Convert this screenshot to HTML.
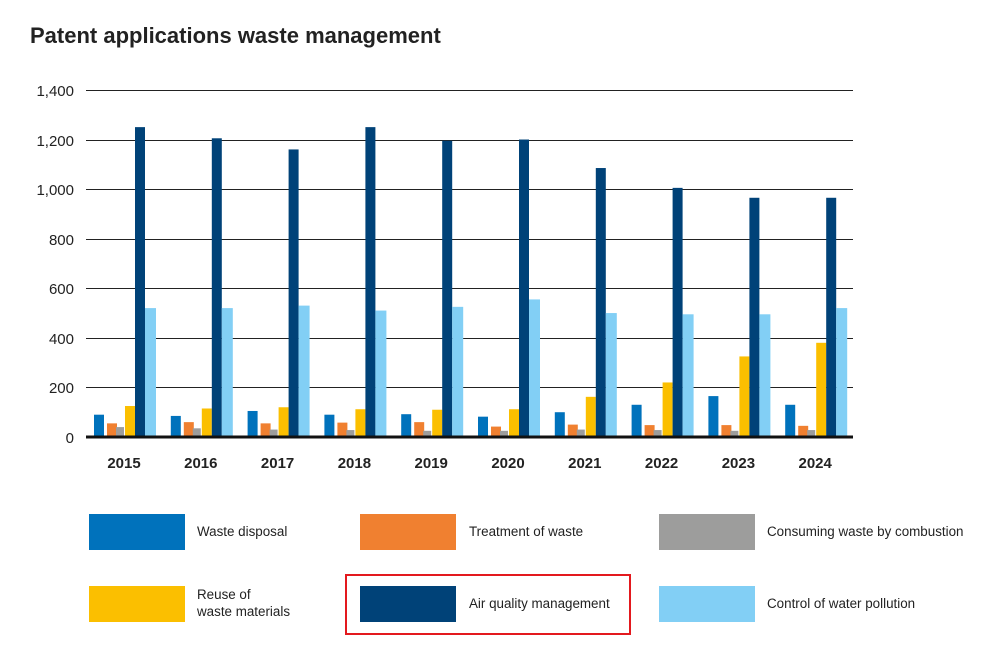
<!DOCTYPE html>
<html><head><meta charset="utf-8"><style>
body{margin:0;background:#fff;width:1004px;height:647px;overflow:hidden;font-family:"Liberation Sans",sans-serif}
</style></head><body>
<svg width="1004" height="647" xmlns="http://www.w3.org/2000/svg" font-family="Liberation Sans, sans-serif">
<text x="30" y="43" font-size="22" font-weight="bold" fill="#222">Patent applications waste management</text>
<g stroke="#222" stroke-width="1">
<line x1="86" x2="853" y1="90.5" y2="90.5"/><line x1="86" x2="853" y1="140.5" y2="140.5"/>
<line x1="86" x2="853" y1="189.5" y2="189.5"/><line x1="86" x2="853" y1="239.5" y2="239.5"/>
<line x1="86" x2="853" y1="288.5" y2="288.5"/><line x1="86" x2="853" y1="338.5" y2="338.5"/>
<line x1="86" x2="853" y1="387.5" y2="387.5"/>
</g>
<g font-size="15" fill="#222" text-anchor="end">
<text x="74" y="96">1,400</text><text x="74" y="146">1,200</text><text x="74" y="195">1,000</text>
<text x="74" y="245">800</text><text x="74" y="294">600</text><text x="74" y="344">400</text>
<text x="74" y="393">200</text><text x="74" y="443">0</text>
</g>
<g id="bars"></g>
<rect x="86" y="435.5" width="767" height="3" fill="#111"/>
<g id="years" font-size="15" font-weight="bold" fill="#222" text-anchor="middle"></g>
<g font-size="13.4" fill="#222">
<rect x="89" y="514" width="96" height="36" fill="#0072bc"/><text x="197" y="536">Waste disposal</text>
<rect x="360" y="514" width="96" height="36" fill="#f08030"/><text x="469" y="536">Treatment of waste</text>
<rect x="659" y="514" width="96" height="36" fill="#9d9d9c"/><text x="767" y="536">Consuming waste by combustion</text>
<rect x="89" y="586" width="96" height="36" fill="#fbbf00"/><text x="197" y="599">Reuse of</text><text x="197" y="616">waste materials</text>
<rect x="360" y="586" width="96" height="36" fill="#004278"/><text x="469" y="608">Air quality management</text>
<rect x="659" y="586" width="96" height="36" fill="#82cff5"/><text x="767" y="608">Control of water pollution</text>
<rect x="346" y="575" width="284" height="59" fill="none" stroke="#e3191e" stroke-width="2"/>
</g>
</svg>
<script>
const d=[[90,55,40,125,1250,520],[85,60,35,115,1205,520],[105,55,30,120,1160,530],[90,58,28,112,1250,510],[92,60,25,110,1195,525],[82,42,25,112,1200,555],[100,50,30,162,1085,500],[130,48,28,220,1005,495],[165,48,25,325,965,495],[130,45,28,380,965,520]];
const c=["#0072bc","#f08030","#9d9d9c","#fbbf00","#004278","#82cff5"];
const off=[0,13,22,31,41,51],w=[10,10,8,10,10,11];
let s="",y="";
d.forEach((r,i)=>{const x0=94+i*76.8;r.forEach((v,j)=>{const h=v*0.2479;s+=`<rect x="${x0+off[j]}" y="${437-h}" width="${w[j]}" height="${h}" fill="${c[j]}"/>`});y+=`<text x="${x0+30}" y="468">${2015+i}</text>`});
document.getElementById("bars").innerHTML=s;document.getElementById("years").innerHTML=y;
</script>
</body></html>
